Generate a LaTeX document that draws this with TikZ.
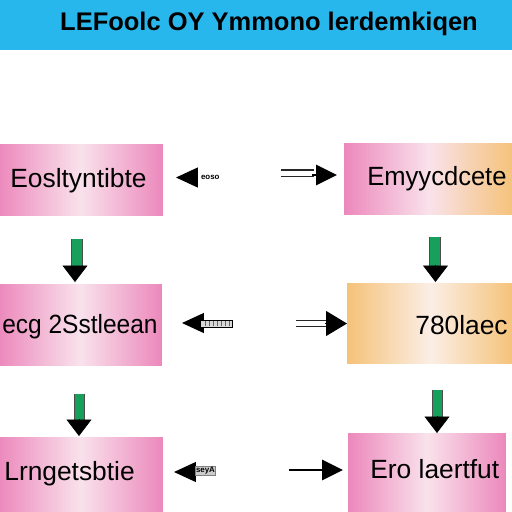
\documentclass[tikz,border=0pt]{standalone}
\usepackage{fontspec}
\setmainfont{Liberation Sans}
\usepackage{graphicx}
\usetikzlibrary{arrows.meta}
\definecolor{bannerblue}{RGB}{40,183,236}
\definecolor{pinkE}{RGB}{236,136,188}
\definecolor{pinkC}{RGB}{249,226,235}
\definecolor{orangeE}{RGB}{245,194,120}
\definecolor{orangeC}{RGB}{251,238,230}
\definecolor{arrgreen}{RGB}{22,160,92}
\begin{document}
\begin{tikzpicture}[x=0.02cm,y=-0.02cm,
  boxbase/.style={rectangle, inner sep=0pt, draw=none},
  pinkbox/.style={boxbase, left color=pinkE, right color=pinkE, middle color=pinkC},
  pinkorangebox/.style={boxbase, left color=pinkE, right color=orangeE, middle color=pinkC},
  orangebox/.style={boxbase, left color=orangeE, right color=orangeE, middle color=orangeC},
  boxtext/.style={inner sep=0pt, font=\fontsize{15}{18}\selectfont, text=black},
  tinytext/.style={inner sep=0.4pt, font=\fontsize{4.5}{5}\selectfont\bfseries, text=black},
  headL/.style={-{Triangle[length=0.44cm,width=0.4cm]}, line width=0.8pt, black},
  headS/.style={-{Triangle[length=0.42cm,width=0.4cm]}, line width=1.6pt, black},
  headM/.style={-{Triangle[length=0.42cm,width=0.5cm]}, line width=0.6pt, black},
  dbl/.style={double=white, double distance=0.1cm, line width=0.75pt, draw=black!85},
  gshaft/.style={draw=black!70, line width=0.5pt, double=arrgreen, double distance=0.19cm},
  ghead/.style={-{Triangle[length=0.33cm,width=0.5cm]}, line width=0.4pt, black}
]
\useasboundingbox (0,0) rectangle (512,512);
\fill[white] (0,0) rectangle (512,512);

% banner
\node[boxbase, fill=bannerblue, minimum width=10.24cm, minimum height=1cm, anchor=north west] (band) at (0,0) {};
\node[inner sep=0pt, anchor=base, font=\fontsize{14.5}{17}\selectfont\bfseries] (title) at (269,30) {LEFoolc OY Ymmono lerdemkiqen};

% boxes
\node[pinkbox, minimum width=3.3cm, minimum height=1.42cm] (b1) at (80.5,179.5) {};
\node[pinkorangebox, minimum width=3.4cm, minimum height=1.42cm] (b2) at (429,178.5) {};
\node[pinkbox, minimum width=3.28cm, minimum height=1.64cm] (b3) at (80,325) {};
\node[orangebox, minimum width=3.34cm, minimum height=1.62cm] (b4) at (430.5,323.5) {};
\node[pinkbox, minimum width=3.3cm, minimum height=1.54cm] (b5) at (80.5,475.5) {};
\node[pinkbox, minimum width=3.16cm, minimum height=1.62cm] (b6) at (427,473.5) {};

% box texts
\node[boxtext, anchor=base west] (t1) at (10,187) {Eosltyntibte};
\node[boxtext, anchor=base west] (t2) at (367,185) {\scalebox{0.97}[1]{Emyycdcete}};
\node[boxtext, anchor=base east] (t3) at (158,333) {\scalebox{0.93}[1]{ecg 2Sstleean}};
\node[boxtext, anchor=base west] (t4) at (415,334) {780laec};
\node[boxtext, anchor=base west] (t5) at (4,480) {Lrngetsbtie};
\node[boxtext, anchor=base west] (t6) at (370,478) {Ero laertfut};

% row 1 arrows
\coordinate (a1s) at (197,177.5);
\coordinate (a1e) at (176,177.5);
\draw[headL] (a1s) -- (a1e);
\node[tinytext, anchor=west] (s1) at (200,177) {eoso};
\coordinate (a2s) at (281,173);
\coordinate (a2m) at (314,173);
\coordinate (a2h) at (312,175);
\coordinate (a2e) at (337,175);
\draw[dbl] (a2s) -- (a2m);
\draw[headS] (a2h) -- (a2e);

% row 2 arrows
\coordinate (a3s) at (200,323);
\coordinate (a3e) at (182,323);
\draw[headL] (a3s) -- (a3e);
\draw[black, fill=black!15, line width=0.5pt] (200,320) rectangle (232,327);
\foreach \xx in {205,209,...,229} \draw[black!60, line width=0.4pt] (\xx,321) -- (\xx,326);
\coordinate (a4s) at (296,323.5);
\coordinate (a4m) at (328,323.5);
\coordinate (a4h) at (325,323.5);
\coordinate (a4e) at (347,323.5);
\draw[dbl] (a4s) -- (a4m);
\draw[headM] (a4h) -- (a4e);

% row 3 arrows
\coordinate (a5s) at (195,472);
\coordinate (a5e) at (174,472);
\draw[headL] (a5s) -- (a5e);
\node[tinytext, draw=black!50, fill=black!20, anchor=west] (s5) at (195,471) {seyA};
\coordinate (a6s) at (289,470);
\coordinate (a6e) at (343,470);
\draw[headS] (a6s) -- (a6e);

% green vertical arrows
\coordinate (v1a) at (77,239); \coordinate (v1b) at (77,269);
\coordinate (v1h) at (75,266); \coordinate (v1t) at (75,282);
\draw[gshaft] (v1a) -- (v1b);
\draw[ghead] (v1h) -- (v1t);

\coordinate (v2a) at (435,237); \coordinate (v2b) at (435,266);
\coordinate (v2h) at (435.5,265); \coordinate (v2t) at (435.5,282);
\draw[gshaft] (v2a) -- (v2b);
\draw[ghead] (v2h) -- (v2t);

\coordinate (v3a) at (79.5,394); \coordinate (v3b) at (79.5,421);
\coordinate (v3h) at (79,419); \coordinate (v3t) at (79,436);
\draw[gshaft] (v3a) -- (v3b);
\draw[ghead] (v3h) -- (v3t);

\coordinate (v4a) at (437.5,390); \coordinate (v4b) at (437.5,418);
\coordinate (v4h) at (437,416); \coordinate (v4t) at (437,433);
\draw[gshaft] (v4a) -- (v4b);
\draw[ghead] (v4h) -- (v4t);
\end{tikzpicture}
\end{document}
